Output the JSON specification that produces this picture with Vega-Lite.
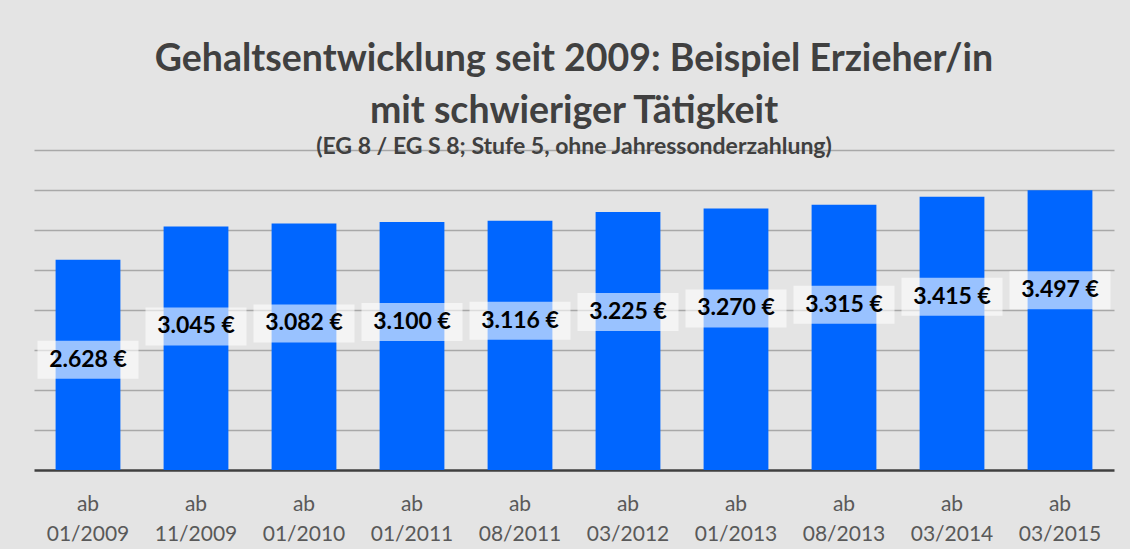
{
  "$schema": "https://vega.github.io/schema/vega-lite/v6.json",
  "autosize": {"type": "none"},
  "width": 1080,
  "height": 320,
  "padding": {"left": 34, "top": 150, "right": 16, "bottom": 79},
  "background": "#e4e4e4",
  "config": {
    "view": {"stroke": null},
    "font": "Lato",
    "locale": {"number": {"decimal": ",", "thousands": ".", "grouping": [3], "currency": ["", " €"]}}
  },
  "title": {
    "text": ["Gehaltsentwicklung seit 2009: Beispiel Erzieher/in", "mit schwieriger Tätigkeit"],
    "subtitle": "(EG 8 / EG S 8; Stufe 5, ohne Jahressonderzahlung)",
    "font": "Lato",
    "fontSize": 37.5,
    "fontWeight": "bold",
    "color": "#404040",
    "lineHeight": 52,
    "subtitleFont": "Lato",
    "subtitleFontSize": 23,
    "subtitleFontWeight": "bold",
    "subtitleColor": "#404040",
    "subtitlePadding": 6,
    "anchor": "middle",
    "offset": -9
  },
  "data": {
    "values": [
      {"datum": "01/2009", "gehalt": 2628},
      {"datum": "11/2009", "gehalt": 3045},
      {"datum": "01/2010", "gehalt": 3082},
      {"datum": "01/2011", "gehalt": 3100},
      {"datum": "08/2011", "gehalt": 3116},
      {"datum": "03/2012", "gehalt": 3225},
      {"datum": "01/2013", "gehalt": 3270},
      {"datum": "08/2013", "gehalt": 3315},
      {"datum": "03/2014", "gehalt": 3415},
      {"datum": "03/2015", "gehalt": 3497}
    ]
  },
  "encoding": {
    "x": {
      "field": "datum",
      "type": "nominal",
      "sort": null,
      "scale": {"paddingInner": 0.4, "paddingOuter": 0.2},
      "axis": {
        "title": null,
        "labelAngle": 0,
        "labelExpr": "['ab', datum.value]",
        "labelFont": "Lato",
        "labelFontSize": 21,
        "labelColor": "#595959",
        "labelLineHeight": 30,
        "labelPadding": 23,
        "labelBaseline": "top",
        "ticks": false,
        "domainColor": "#404040",
        "domainWidth": 2.5,
        "grid": false
      }
    },
    "y": {
      "field": "gehalt",
      "type": "quantitative",
      "scale": {"domain": [0, 4000], "nice": false},
      "axis": {
        "title": null,
        "labels": false,
        "ticks": false,
        "domain": false,
        "values": [500, 1000, 1500, 2000, 2500, 3000, 3500, 4000],
        "gridColor": "#a8a8a8",
        "gridWidth": 1.5
      }
    }
  },
  "layer": [
    {"mark": {"type": "bar", "color": "#0066ff"}},
    {"mark": {"type": "tick", "orient": "horizontal", "color": "#ffffff", "opacity": 0.6, "size": 101, "thickness": 38, "yOffset": 100}},
    {
      "mark": {"type": "text", "fontSize": 23, "fontWeight": "bold", "color": "#000000", "dy": 100, "baseline": "middle", "font": "Lato"},
      "encoding": {"text": {"field": "gehalt", "type": "quantitative", "format": "$,.0f"}}
    }
  ]
}
